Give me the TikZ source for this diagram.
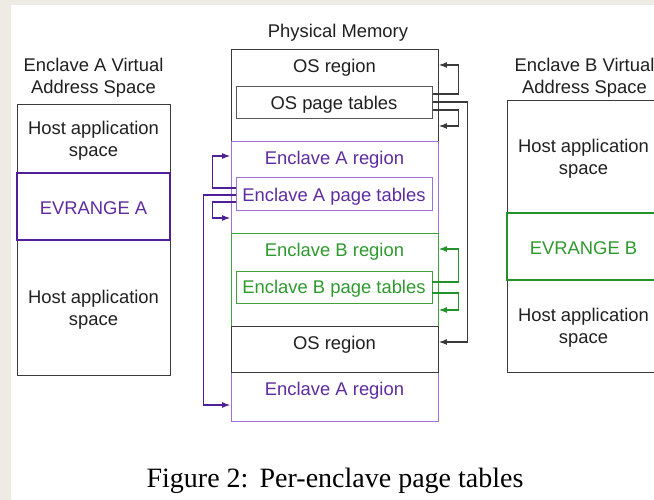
\documentclass[tikz,border=0pt]{standalone}
\usepackage{fontspec}
\setmainfont{Liberation Serif}
\setsansfont{Liberation Sans}
\usetikzlibrary{arrows.meta}

\definecolor{paper}{HTML}{EEEBE4}
\definecolor{osline}{HTML}{3A3A3A}
\definecolor{ostext}{HTML}{202020}
\definecolor{encApale}{HTML}{9E72D8}
\definecolor{encAdark}{HTML}{4E1F96}
\definecolor{encAtext}{HTML}{5E2CA0}
\definecolor{encBline}{HTML}{3FA23F}
\definecolor{encBdark}{HTML}{23922A}
\definecolor{encBtext}{HTML}{2E9A2E}

\tikzset{
  lbl/.style={font=\sffamily\fontsize{18.4}{22}\selectfont, align=center, inner sep=0pt, yshift=-2pt},
  region/.style={draw, line width=0.9pt, minimum width=207pt, inner sep=0pt},
  ptbox/.style={draw, line width=1pt, minimum width=196pt, inner sep=0pt},
  vspace/.style={draw, line width=0.9pt, minimum width=153pt, inner sep=0pt},
  evrange/.style={draw, line width=2pt, minimum width=153pt, inner sep=0pt},
  link/.style={line width=1.1pt, -{Latex[length=8pt,width=6pt]}, shorten >=0.5pt},
}

\begin{document}
\begin{tikzpicture}[x=1pt,y=-1pt]
  % page and paper
  \useasboundingbox (0,0) rectangle (654,500);
  \fill[paper] (0,0) rectangle (654,500);
  \fill[white] (11,5) rectangle (654,500);

  % ---------- Enclave A virtual address space ----------
  \node[lbl, text=ostext] (vaTitle) at (93.5,76) {Enclave A Virtual\\Address Space};
  \node[vspace, draw=osline, minimum height=69pt] (vaHost1) at (93.5,138.5) {};
  \node[vspace, draw=osline, minimum height=135pt] (vaHost2) at (93.5,307.5) {};
  \node[evrange, draw=encAdark, minimum height=67pt] (evA) at (93.5,206.5) {};
  \node[lbl, text=ostext] (vaHost1Text) at (vaHost1) {Host application\\space};
  \node[lbl, text=ostext] (vaHost2Text) at (vaHost2) {Host application\\space};
  \node[lbl, text=encAtext] (evAText) at (evA) {EVRANGE A};

  % ---------- Physical memory ----------
  \node[lbl, text=ostext] (pmTitle) at (338,31) {Physical Memory};

  \node[region, draw=osline, minimum height=92pt] (osTop) at (334.5,95) {};
  \node[lbl, text=ostext] (osTopText) at (334.5,66) {OS region};
  \node[ptbox, draw=osline!85, minimum height=32pt] (ospt) at (334,103) {};
  \node[lbl, text=ostext] (osptText) at (ospt) {OS page tables};

  \node[region, draw=encApale, minimum height=92pt] (encA) at (334.5,187) {};
  \node[lbl, text=encAtext] (encAText) at (334.5,158) {Enclave A region};
  \node[ptbox, draw=encApale, minimum height=33pt] (encApt) at (334,194.5) {};
  \node[lbl, text=encAtext] (encAptText) at (encApt) {Enclave A page tables};

  \node[region, draw=encBline, minimum height=93pt] (encB) at (334.5,279.5) {};
  \node[lbl, text=encBtext] (encBText) at (334.5,250) {Enclave B region};
  \node[ptbox, draw=encBline, line width=0.9pt, minimum height=32pt] (encBpt) at (334,287) {};
  \node[lbl, text=encBtext] (encBptText) at (encBpt) {Enclave B page tables};

  \node[region, draw=encApale, minimum height=49pt] (encAlow) at (334.5,396.5) {};
  \node[lbl, text=encAtext] (encAlowText) at (334.5,389) {Enclave A region};

  \node[region, draw=osline, minimum height=46pt] (osLow) at (334.5,349) {};
  \node[lbl, text=ostext] (osLowText) at (334.5,343) {OS region};

  % ---------- Enclave B virtual address space ----------
  \node[lbl, text=ostext] (vbTitle) at (584.5,75.5) {Enclave B Virtual\\Address Space};
  \begin{scope}
    \clip (0,0) rectangle (654,500);
    \node[vspace, draw=osline, minimum height=113pt] (vbHost1) at (583.5,156.5) {};
    \node[vspace, draw=osline, minimum height=92pt] (vbHost2) at (583.5,326) {};
    \node[evrange, draw=encBdark, line width=1.5pt, minimum height=67pt] (evB) at (583.5,246.5) {};
    \node[lbl, text=ostext] (vbHost1Text) at (vbHost1) {Host application\\space};
    \node[lbl, text=ostext] (vbHost2Text) at (vbHost2) {Host application\\space};
    \node[lbl, text=encBtext] (evBText) at (evB) {EVRANGE B};
  \end{scope}

  % ---------- page table mappings ----------
  % OS page tables
  \draw[link, osline] ([yshift=9pt]ospt.east) -- ++(26,0) |- ([yshift=30pt]osTop.east);
  \draw[link, osline] ([yshift=1pt]ospt.east) -- ++(35,0) |- ([yshift=7pt]osLow.east);
  \draw[link, osline] ([yshift=-7pt]ospt.east) -- ++(26,0) |- ([yshift=-31pt]osTop.east);

  % Enclave B page tables
  \draw[link, encBdark] ([yshift=5pt]encBpt.east) -- ++(26,0) |- ([yshift=30.5pt]encB.east);
  \draw[link, encBdark] ([yshift=-6pt]encBpt.east) -- ++(26,0) |- ([yshift=-30.5pt]encB.east);

  % Enclave A page tables
  \draw[link, encAdark] ([yshift=6.5pt]encApt.west) -- ++(-23,0) |- ([yshift=31pt]encA.west);
  \draw[link, encAdark] ([yshift=-0.5pt]encApt.west) -- ++(-32,0) |- ([yshift=-8.5pt]encAlow.west);
  \draw[link, encAdark] ([yshift=-7.5pt]encApt.west) -- ++(-23,0) |- ([yshift=-31pt]encA.west);

  % caption
  \node[font=\fontsize{28}{32}\selectfont, inner sep=0pt] (caption) at (335,481) {Figure 2:\hspace{0.4em}Per-enclave page tables};
\end{tikzpicture}
\end{document}
